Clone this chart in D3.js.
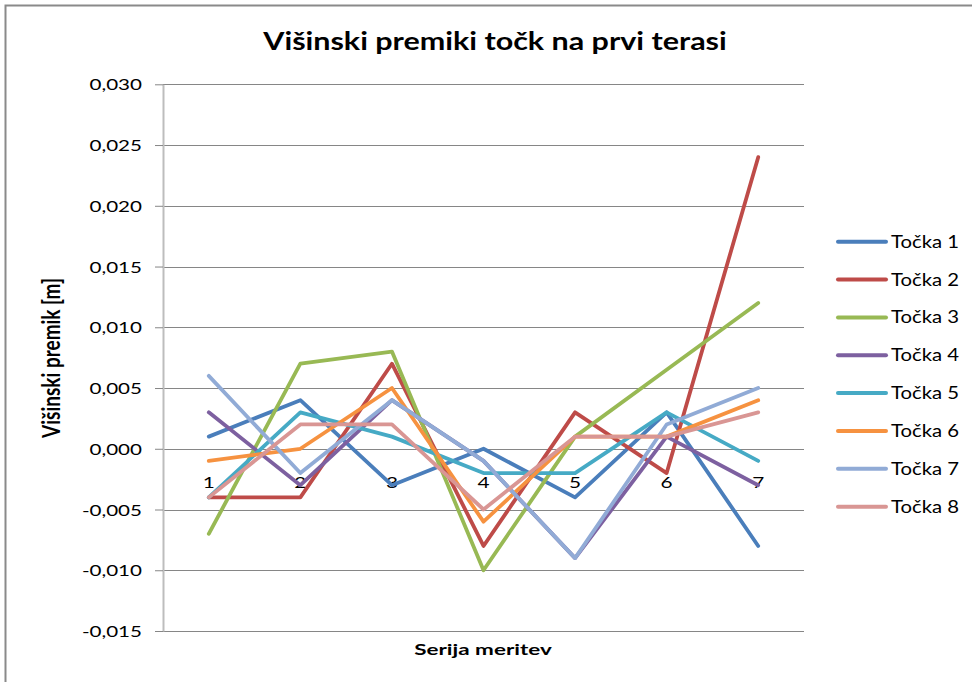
<!DOCTYPE html>
<html>
<head>
<meta charset="utf-8">
<script src="https://cdn.jsdelivr.net/npm/d3@7"></script>
<style>
  body { margin: 0; background: #fff; }
  svg { display: block; font-family: Lato, "Open Sans", sans-serif; }
</style>
</head>
<body>
<div id="chart"></div>
<script>
// data
var categories = ["1", "2", "3", "4", "5", "6", "7"];
var seriesNames = ["Točka 1", "Točka 2", "Točka 3", "Točka 4", "Točka 5", "Točka 6", "Točka 7", "Točka 8"];
var tocka1 = [0.001, 0.004, -0.003, 0.000, -0.004, 0.003, -0.008];
var tocka2 = [-0.004, -0.004, 0.007, -0.008, 0.003, -0.002, 0.024];
var tocka3 = [-0.007, 0.007, 0.008, -0.010, 0.001, 0.0065, 0.012];
var tocka4 = [0.003, -0.003, 0.004, -0.001, -0.009, 0.001, -0.003];
var tocka5 = [-0.004, 0.003, 0.001, -0.002, -0.002, 0.003, -0.001];
var tocka6 = [-0.001, 0.000, 0.005, -0.006, 0.001, 0.001, 0.004];
var tocka7 = [0.006, -0.002, 0.004, -0.001, -0.009, 0.002, 0.005];
var tocka8 = [-0.004, 0.002, 0.002, -0.005, 0.001, 0.001, 0.003];
var yTicks = [-0.015, -0.010, -0.005, 0.000, 0.005, 0.010, 0.015, 0.020, 0.025, 0.030];
var colors = ["#4A7EBB", "#BE4B48", "#98B954", "#7D60A0", "#46AAC5", "#F69240", "#91ABD6", "#D99694"];

var allSeries = [tocka1, tocka2, tocka3, tocka4, tocka5, tocka6, tocka7, tocka8];

var width = 972, height = 682;
var plotLeft = 163, plotRight = 804, plotTop = 84.3, plotBottom = 631;

var svg = d3.select("#chart").append("svg")
  .attr("width", width)
  .attr("height", height);

// outer chart frame (runs off the right and bottom edge)
svg.append("rect")
  .attr("x", 5.5).attr("y", 5.5)
  .attr("width", 1000).attr("height", 1000)
  .attr("fill", "none")
  .attr("stroke", "#8a8a8a")
  .attr("stroke-width", 2);

var x = d3.scaleBand().domain(categories).range([plotLeft, plotRight]);
var y = d3.scaleLinear().domain([-0.015, 0.030]).range([plotBottom, plotTop]);

var loc = d3.formatLocale({decimal: ",", thousands: ".", grouping: [3], currency: ["", ""], minus: "-"});
var fmt = loc.format(".3f");

// horizontal text stretch, the original picture is wider than its fonts
function stretch(sel, sx){
  sel.each(function(){
    var t = d3.select(this);
    var tx = +t.attr("x") || 0, ty = +t.attr("y") || 0;
    t.attr("x", null).attr("y", null)
     .attr("transform", "translate(" + tx + "," + ty + ") scale(" + sx + ",1)");
  });
}

// gridlines
svg.append("g").selectAll("line")
  .data(yTicks)
  .join("line")
  .attr("x1", plotLeft).attr("x2", plotRight)
  .attr("y1", function(d){ return Math.round(y(d)) + 0.5; })
  .attr("y2", function(d){ return Math.round(y(d)) + 0.5; })
  .attr("stroke", "#868686")
  .attr("stroke-width", 1);

// y axis
var yAxis = svg.append("g")
  .attr("transform", "translate(" + plotLeft + ",0)")
  .call(d3.axisLeft(y).tickValues(yTicks).tickFormat(fmt).tickSize(8).tickSizeOuter(0).tickPadding(13));
yAxis.select(".domain").attr("stroke", "#bdbdbd").attr("stroke-width", 2);
yAxis.selectAll(".tick line").attr("stroke", "#868686");
yAxis.selectAll(".tick text")
  .attr("font-family", "Lato, sans-serif")
  .attr("font-size", 15.5)
  .attr("fill", "#000")
  .attr("dy", "0.36em")
  .call(stretch, 1.33);

// category labels sit just under the zero line
svg.append("g").selectAll("text")
  .data(categories)
  .join("text")
  .attr("x", function(d){ return x(d) + x.bandwidth() / 2; })
  .attr("y", y(0) + 39)
  .attr("text-anchor", "middle")
  .attr("font-size", 16)
  .attr("fill", "#000")
  .text(function(d){ return d; })
  .call(stretch, 1.3);

// lines
var line = d3.line()
  .x(function(d, i){ return x(categories[i]) + x.bandwidth() / 2; })
  .y(function(d){ return y(d); });

svg.append("g").selectAll("path")
  .data(allSeries)
  .join("path")
  .attr("d", line)
  .attr("fill", "none")
  .attr("stroke", function(d, i){ return colors[i]; })
  .attr("stroke-width", 3.8)
  .attr("stroke-linejoin", "round")
  .attr("stroke-linecap", "round");

// title
svg.append("text")
  .attr("x", 495).attr("y", 50)
  .attr("text-anchor", "middle")
  .attr("font-size", 24)
  .attr("font-weight", "bold")
  .attr("fill", "#000")
  .text("Višinski premiki točk na prvi terasi")
  .call(stretch, 1.27);

// axis titles
svg.append("text")
  .attr("transform", "translate(60,358) scale(1.3,1) rotate(-90)")
  .attr("text-anchor", "middle")
  .attr("font-size", 19)
  .attr("font-weight", "bold")
  .attr("fill", "#000")
  .text("Višinski premik [m]");

svg.append("text")
  .attr("x", 483).attr("y", 655)
  .attr("text-anchor", "middle")
  .attr("font-size", 15.5)
  .attr("font-weight", "bold")
  .attr("fill", "#000")
  .text("Serija meritev")
  .call(stretch, 1.45);

// legend
var legend = svg.append("g").selectAll("g")
  .data(seriesNames)
  .join("g")
  .attr("transform", function(d, i){ return "translate(838," + (241.7 + i * 37.85) + ")"; });
legend.append("line")
  .attr("x1", 0).attr("x2", 48)
  .attr("stroke", function(d, i){ return colors[i]; })
  .attr("stroke-width", 4)
  .attr("stroke-linecap", "round");
legend.append("text")
  .attr("x", 53).attr("y", 6)
  .attr("font-size", 17.5)
  .attr("fill", "#000")
  .text(function(d){ return d; })
  .call(stretch, 1.16);
</script>
</body>
</html>
